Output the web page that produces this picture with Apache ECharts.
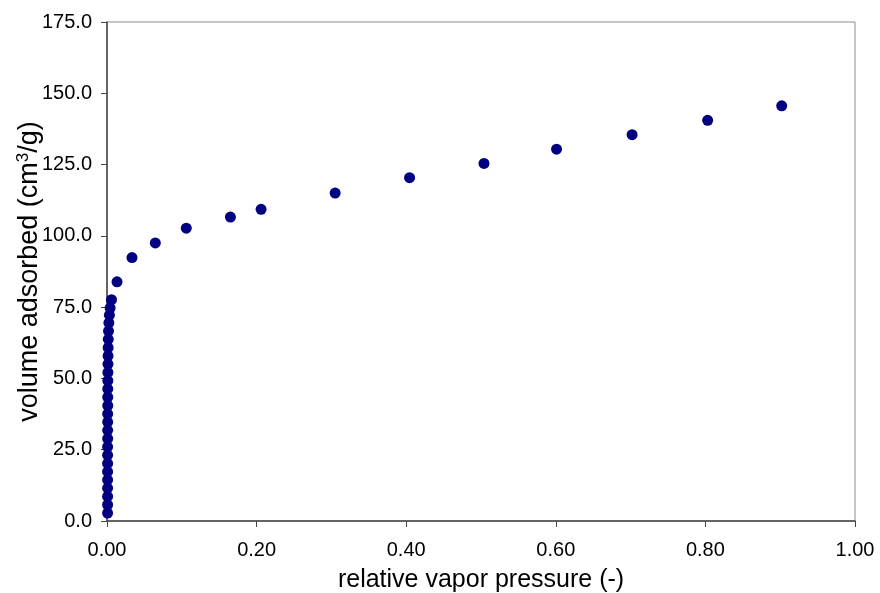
<!DOCTYPE html>
<html>
<head>
<meta charset="utf-8">
<script src="https://cdn.jsdelivr.net/npm/echarts@6/dist/echarts.min.js"></script>
<style>
html,body{margin:0;padding:0;background:#fff;}
#chart{width:880px;height:593px;}
</style>
</head>
<body>
<div id="chart"></div>
<script>
// relative vapor pressure (x) and volume adsorbed (y)
const pressure = [
  0.0008, 0.0008, 0.0008, 0.0008, 0.0008, 0.0008, 0.0008, 0.0008, 0.0008,
  0.0009, 0.0009, 0.0009, 0.0009, 0.0010, 0.0010, 0.0010, 0.0011, 0.0012,
  0.0013, 0.0014, 0.0015, 0.0017, 0.0020, 0.0025, 0.0032, 0.0042, 0.0060,
  0.0134, 0.0334, 0.0646, 0.106, 0.165, 0.206, 0.305, 0.4045, 0.504,
  0.601, 0.702, 0.803, 0.902
];
const volume = [
  2.8, 5.7, 8.6, 11.5, 14.4, 17.3, 20.2, 23.1, 26.0,
  28.9, 31.8, 34.7, 37.6, 40.5, 43.4, 46.3, 49.2, 52.1,
  55.0, 57.9, 60.8, 63.7, 66.6, 69.5, 72.2, 74.7, 77.6,
  83.9, 92.4, 97.5, 102.7, 106.6, 109.3, 115.0, 120.4, 125.4,
  130.4, 135.5, 140.5, 145.6
];
const xTicks = [0, 0.2, 0.4, 0.6, 0.8, 1.0];
const yTicks = [0, 25, 50, 75, 100, 125, 150, 175];

const points = pressure.map((p, i) => [p, volume[i]]);
const FONT = 'Liberation Sans, Arial, sans-serif';

const chart = echarts.init(document.getElementById('chart'), null, {renderer: 'canvas'});
chart.setOption({
  animation: false,
  backgroundColor: '#ffffff',
  grid: {
    left: 107, right: 25, top: 22, bottom: 72,
    containLabel: false, outerBoundsMode: 'none',
    show: true, borderColor: '#8c8c8c', borderWidth: 1
  },
  xAxis: {
    type: 'value',
    min: xTicks[0], max: xTicks[xTicks.length - 1], interval: 0.2,
    name: 'relative vapor pressure (-)',
    nameLocation: 'middle', nameGap: 47, nameMoveOverlap: false,
    nameTextStyle: {fontFamily: FONT, fontSize: 25, color: '#000'},
    axisLine: {show: true, lineStyle: {color: '#444', width: 1.5}},
    axisTick: {show: true, length: 6, inside: false, lineStyle: {color: '#444'}},
    axisLabel: {fontFamily: FONT, fontSize: 20, color: '#000', margin: 19,
      formatter: v => v.toFixed(2)},
    splitLine: {show: false}
  },
  yAxis: {
    type: 'value',
    min: yTicks[0], max: yTicks[yTicks.length - 1], interval: 25,
    name: '{a|volume adsorbed (cm}{s|3}{a|/g)}',
    nameLocation: 'middle', nameGap: 62, nameRotate: 90, nameMoveOverlap: false,
    nameTextStyle: {
      fontFamily: FONT, fontSize: 27, color: '#000',
      rich: {
        a: {fontFamily: FONT, fontSize: 27, color: '#000', lineHeight: 30},
        s: {fontFamily: FONT, fontSize: 17, color: '#000', lineHeight: 30, padding: [0, 0, 14, 0]}
      }
    },
    axisLine: {show: true, lineStyle: {color: '#444', width: 1.5}},
    axisTick: {show: true, length: 6, inside: false, lineStyle: {color: '#444'}},
    axisLabel: {fontFamily: FONT, fontSize: 20, color: '#000', margin: 15,
      formatter: v => v.toFixed(1)},
    splitLine: {show: false}
  },
  series: [{
    type: 'scatter',
    data: points,
    symbol: 'circle',
    symbolSize: 11,
    itemStyle: {color: '#000080', opacity: 1}
  }]
});
</script>
</body>
</html>
